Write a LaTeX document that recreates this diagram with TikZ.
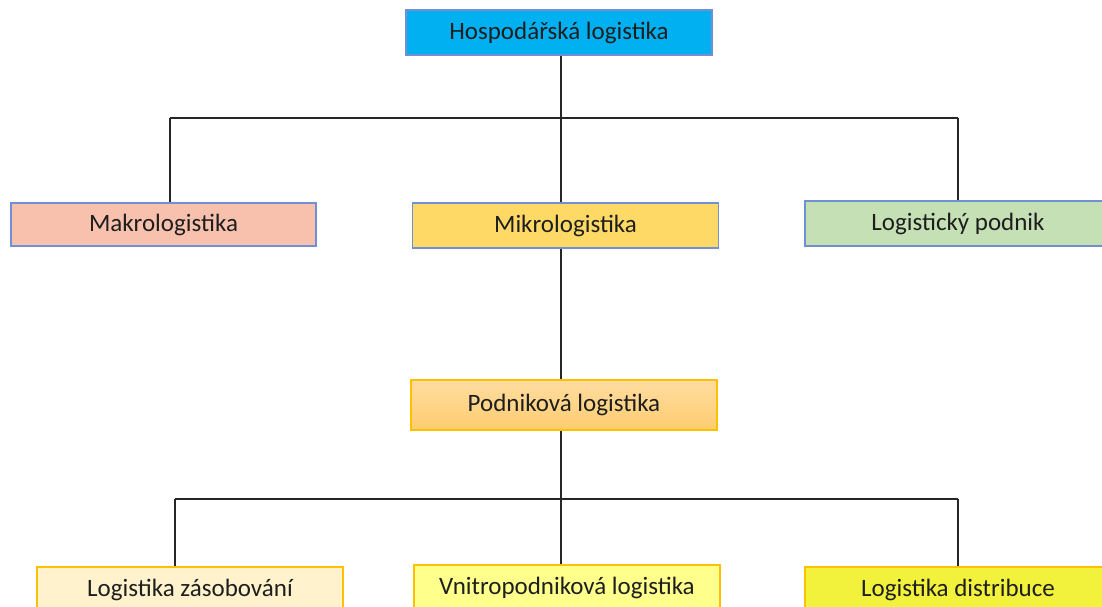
\documentclass[tikz,border=0pt]{standalone}
\usepackage{xcolor}
\usepackage{fontspec}
\setmainfont{Carlito}
\usepackage{tikz}
\usetikzlibrary{calc,positioning}

\definecolor{hospblue}{HTML}{00B0F0}
\definecolor{edgeblue}{HTML}{7190D4}
\definecolor{edgegold}{HTML}{FFC000}
\definecolor{makrofill}{HTML}{F8C1AE}
\definecolor{mikrofill}{HTML}{FFD966}
\definecolor{podfill}{HTML}{C5E0B4}
\definecolor{podtop}{HTML}{FFDCA0}
\definecolor{podbot}{HTML}{FFCD70}
\definecolor{zasfill}{HTML}{FFF2CC}
\definecolor{vnifill}{HTML}{FFFF8C}
\definecolor{disfill}{HTML}{F2F23C}
\definecolor{txt}{HTML}{1E1E1E}

\begin{document}
\begin{tikzpicture}[x=1pt,y=-1pt,line/.style = {line width=1.3pt,black!85}]
				\tikzset{box/.style={rectangle,inner sep=0pt,minimum width=306pt,minimum height=45pt,text centered,text=txt,font=\fontsize{25}{29}\selectfont},
					blue box/.style={box,draw=edgeblue,line width=1.3pt},
					gold box/.style={box,draw=edgegold,line width=1.6pt}}

				\clip (0,0) rectangle (1102,607);

				\node[blue box, fill=hospblue] (hosp) at (559,32.5) {Hospodářská logistika};

				\node[blue box, minimum width=305pt, minimum height=43pt, fill=makrofill] (makro) at (163.5,224.5) {Makrologistika};
				\node[blue box, fill=mikrofill] (mikro) at (565.5,225.5) {Mikrologistika};
				\node[blue box, fill=podfill] (logpod) at (958,223.5) {Logistický podnik};

				\node[gold box, minimum height=50pt, top color=podtop, bottom color=podbot] (podnik) at (564,405) {Podniková logistika};

				\node[gold box, fill=zasfill] (zasob) at (190,589.5) {Logistika zásobování};
				\node[gold box, fill=vnifill] (vnitro) at (567,587.5) {Vnitropodniková logistika};
				\node[gold box, fill=disfill] (distr) at (958,589.5) {Logistika distribuce};

				% horni vetveni
				\coordinate (busL) at (170,118);
				\coordinate (busM) at (561,118);
				\coordinate (busR) at (958,118);
				\draw [line] (busL) -- (busR);
				\draw [line] (hosp.south -| busM) -- (mikro.north -| busM);
				\draw [line] (busL) -- (makro.north -| busL);
				\draw [line] (busR) -- (logpod.north -| busR);

				\draw [line] (mikro.south -| busM) -- (podnik.north -| busM);

				% dolni vetveni
				\coordinate (subL) at (175,499);
				\coordinate (subM) at (561,499);
				\coordinate (subR) at (958,499);
				\draw [line] (subL) -- (subR);
				\draw [line] (podnik.south -| subM) -- (vnitro.north -| subM);
				\draw [line] (subL) -- (zasob.north -| subL);
				\draw [line] (subR) -- (distr.north -| subR);

			\end{tikzpicture}
\end{document}
